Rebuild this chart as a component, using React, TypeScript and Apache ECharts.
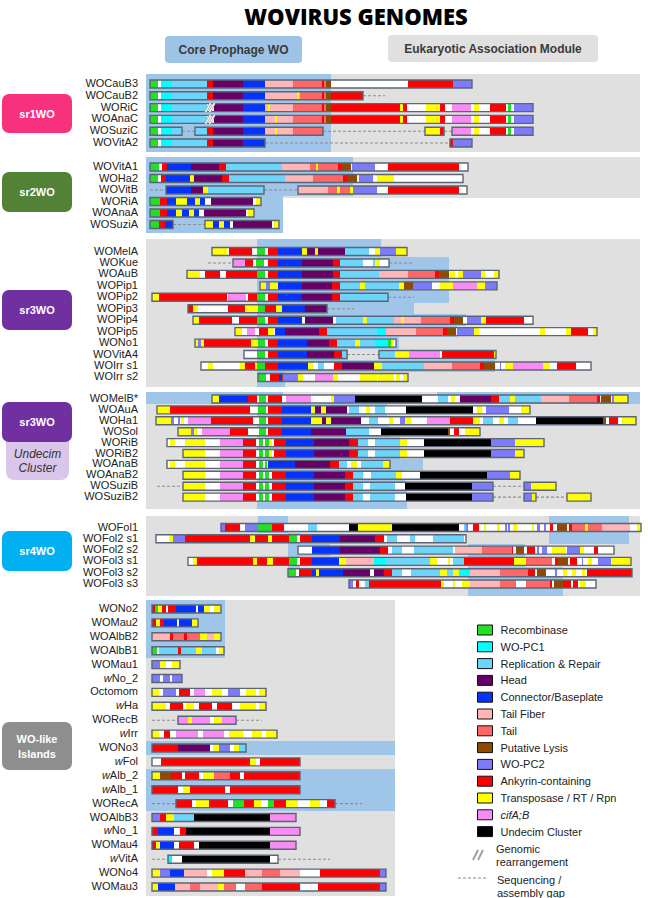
import React, { useEffect, useRef } from "react";
import * as echarts from "echarts";

const FONT = "'Liberation Sans', Arial, Helvetica, sans-serif";

// ---------- gene categories (legend) ----------
const categoryKeys = ["G", "C", "R", "H", "B", "F", "T", "L", "P", "A", "Y", "M", "K"];
const categoryNames = [
  "Recombinase", "WO-PC1", "Replication & Repair", "Head", "Connector/Baseplate",
  "Tail Fiber", "Tail", "Putative Lysis", "WO-PC2", "Ankyrin-containing",
  "Transposase / RT / Rpn", "cifA;B", "Undecim Cluster",
];
const categoryColors = [
  "#22E022", "#00FFFF", "#6DD5FA", "#660066", "#0433FF", "#FFB6B6", "#FF6666",
  "#8E4B00", "#7B7BFB", "#FF0000", "#FFFF00", "#F88CF4", "#000000",
];

// ---------- genome maps: "start  Xend Xend ... -gapEnd ..." (X = category key, W = unassigned) ----------
const sr1Names = ["WOCauB3", "WOCauB2", "WORiC", "WOAnaC", "WOSuziC", "WOVitA2"];
const sr1Genomes = [
  "150 G158 W161 C172 R207 A213 H243 B265 F293 T322 A324 T326 L331 W408 A453 P472",
  "150 G158 W161 C172 R207 A213 H243 B265 F297 Y299 F300 T322 A324 T326 L331 A363 -385",
  "150 G158 W161 C172 R207 W210 / W214 H243 B265 F268 Y270 F293 T322 A324 T326 L331 A400 Y403 A407 W426 Y440 A445 W452 M471 W474 Y479 W490 A506 W508 G511 W514 P533",
  "150 G158 W161 C172 R207 W210 / W214 H243 B265 F275 Y277 F293 T322 A324 T326 L331 A400 Y403 A407 W426 Y440 A445 W452 M471 W474 Y479 W490 A506 W508 G511 W514 P533",
  "150 G158 W161 C172 R182 -195 R207 A213 H243 B265 F275 Y277 F293 T323 -425 Y440 A444 -452 M471 W474 Y479 W490 A506 W508 G511 W514 P533",
  "150 G158 W161 C172 R207 A213 H243 B265 -450 A453 P472",
];
const sr1Core = [[[146, 331]], [[146, 331]], [[146, 331]], [[146, 331]], [[146, 331]], [[146, 331]]];

const sr2Names = ["WOVitA1", "WOHa2", "WOVitB", "WORiA", "WOAnaA", "WOSuziA"];
const sr2Genomes = [
  "150 G159 W162 A167 B191 H219 A226 R282 F310 T316 Y318 T338 A341 L351 W352 P375 W388 A459 W468",
  "150 G158 W161 A166 B190 Y194 H222 A229 R285 F313 T343 A347 L357 W359 P373 W377 Y394 W463",
  "150 -166 B191 H203 Y208 R264 -298 F328 T337 Y340 T350 Y353 P377 W388 A459 W467",
  "150 G160 A167 B176 Y187 B195 Y200 B205 W211 H253 W256 Y261",
  "150 G160 A167 B176 Y182 B189 Y194 B199 W204 H246 W248 Y254",
  "150 G159 A165 B173 -205 Y213 B219 Y224 B230 W233 H272 W274 Y279",
];
const sr2Core = [[[146, 353]], [[146, 353]], [[146, 353]], [[146, 283]], [[146, 283]], [[146, 283]]];

const sr3Names = ["WOMelA", "WOKue", "WOAuB", "WOPip1", "WOPip2", "WOPip3", "WOPip4", "WOPip5", "WONo1", "WOVitA4", "WOIrr s1", "WOIrr s2"];
const sr3Genomes = [
  "212 Y227 W229 A252 W257 G265 W268 A278 B302 Y307 H315 Y318 H345 R369 W375 Y380 P396 Y407",
  "208 -233 M245 A253 W256 G264 W268 A278 B302 H333 A340 R363 W373 R375 Y380 W389 -413",
  "187 Y200 W205 A220 W226 A257 G265 W268 A278 B302 H333 A340 R379 F408 T435 A439 L449 W450 Y455 W458 Y463 P481 Y485 W494 Y499",
  "260 Y266 P270 Y278 B302 H332 A340 R360 Y365 R399 Y404 L413 P432 W440 Y453 M477 Y485 P497",
  "152 Y159 A227 W228 M246 W248 A257 G265 W268 A278 B302 H332 A340 R388 -414",
  "188 A193 Y198 W228 A245 Y258 G265 A276 Y282 B305 H327 -354",
  "193 Y199 A232 W239 A257 G265 W268 A278 B302 W305 H333 W336 R363 Y367 R394 F401 Y404 F421 T450 A454 L463 W467 P481 Y486 A524 W533",
  "235 Y242 W247 M255 W259 A268 Y274 W275 B285 H319 A327 R377 C386 F416 T443 A447 L456 W457 P474 Y479 W540 Y545 W566 Y571 A588 W593 Y597",
  "195 Y198 P201 Y204 A251 Y258 G265 W268 A278 B307 H329 A337 R355 Y360 R375 C388 G391 Y394 W396",
  "244 W257 G265 W268 A278 B307 H334 A342 R347 -379 R395 Y409 M440 W442 A494 Y496",
  "201 W208 Y213 W240 Y245 A255 Y257 G265 A278 B308 Y313 W318 R324 W334 A342 H374 Y382 R424 F452 T480 A484 L495 W500 P501 W505 Y513 M543 Y550 W557 A576 W591",
  "258 G266 W270 A279 B282 L283 P298 Y303 W315 M333 Y338 W360 Y377 W378 Y394 W396 Y400 W403 Y408",
];
const sr3Core = [[[257, 381]], [[257, 449]], [[257, 449]], [[257, 449]], [[257, 449]], [[257, 414]], [[257, 466]], [[257, 457]], [[257, 399]], [[257, 348]], [[257, 495]], [[257, 285]]];

const undNames = ["WOMelB*", "WOAuA", "WOHa1", "WOSol", "WORiB", "WORiB2", "WOAnaB", "WOAnaB2", "WOSuziB", "WOSuziB2"];
const undGenomes = [
  "212 Y219 B248 A257 W259 G266 W268 A282 W286 M311 W331 Y334 P355 K422 W438 R448 W451 Y455 W460 H491 A499 R510 Y515 R541 F569 T597 A600 W601 L611 W612 P614 Y628",
  "157 Y170 A250 W258 G266 W268 A282 B311 Y315 H321 Y326 H347 W349 R359 W366 Y370 W375 R385 W406 K473 W477 Y482 W486 P509 W521 Y530",
  "156 Y171 P174 W178 P180 W181 Y184 W188 M211 A253 W259 G266 W268 A282 B311 Y322 H326 Y331 H361 W369 R378 W389 Y393 W400 P405 Y411 W427 M450 A473 Y480 W483 R493 W499 Y504 W508 R518 W536 K603 L606 W609 A618 W622 Y636",
  "178 Y191 P194 Y197 W202 M230 A248 W259 G266 W268 A282 B311 H346 R369 W381 K448 L450 W454 A459 W465 Y480",
  "167 W170 Y175 W185 Y205 W220 M243 A256 W259 G263 W265 G269 Y272 W274 A286 B314 H349 A358 R368 W375 R400 Y407 W424 K491 P515 Y544",
  "183 Y205 W220 M243 A256 W259 G263 W265 G269 Y272 W274 A286 B314 H349 A358 R368 W375 R400 Y407 W424 K491 P515 Y524",
  "167 W170 Y175 W185 Y205 W220 M243 A256 W259 G263 W265 G267 W268 B295 H330 A339 R347 W351 Y357 W361 R383 Y390",
  "183 Y205 W220 M243 A256 W259 G263 W265 G269 W272 A286 B314 H345 A353 R363 W371 R396 Y402 W420 K487 P510 Y520",
  "157 -183 Y205 W220 M243 A256 W259 G263 W265 G269 W272 A286 B314 H345 A353 R363 W370 R395 W405 K472 P493 -524 P531 Y556",
  "183 Y205 W220 M243 A256 W259 G263 W265 G269 W272 A286 B314 H345 A353 R363 W370 R395 W406 K472 P493 -524 P532 Y536 -567 Y591",
];
const undCore = [[[146, 283], [437, 640]], [[257, 387]], [[257, 387]], [[257, 390]], [[257, 400]], [[257, 400]], [[257, 423]], [[257, 405]], [[257, 407]], [[257, 407]]];

const sr4Names = ["WOFol1", "WOFol2 s1", "WOFol2 s2", "WOFol3 s1", "WOFol3 s2", "WOFol3 s3"];
const sr4Genomes = [
  "221 P225 A240 W245 P258 G272 A284 W308 R317 W349 K358 Y392 K459 W464 R466 P468 W473 A479 W484 Y486 W497 Y500 W505 P507 W508 P510 W513 Y517 W532 Y534 W537 P540 W544 P546 W550 A553 W557 L567 W569 A572 T585 Y588 T602 F630 W637 Y641",
  "156 W169 Y173 P185 A250 Y255 A268 Y272 A289 G297 W300 A312 B340 H375 A384 W387 R397 W410 R415 W433 R464 W466",
  "298 W312 B340 H380 A388 W392 R402 W414 R453 W455 F482 T512 A513 W516 L524 W527 A535 W537 P539 W542 P547 W552 Y566 W567 P580 Y584 W594 A598 W614",
  "188 W193 Y197 A253 Y257 A267 Y273 A289 G297 W300 A312 B339 Y346 F374 C385 R430 Y437 W448 Y450 W453 R464 A514 Y526 T552 W555 A558 L568 W570 A577 W582 P583 W588 Y592 W598 P611 Y631",
  "288 G296 W299 A312 B316 Y319 B343 H370 W374 H384 A392 R402 W411 R440 Y447 R453 Y459 C470 F500 T528 A535 W537 L546 W555 P557 W563 Y567 W572 Y576 W582 Y585 W587 A632",
  "349 P353 W356 A359 W365 R369 A441 Y444 W453 Y455 W462 Y470 F500 T516 W526 T550 A552 W554 L563 A571 W573 A578 W580 Y586 W596",
];
const sr4Core = [[[258, 288], [549, 629]], [[288, 300], [549, 629]], [[288, 330], [468, 525]], [[288, 300], [468, 525]], [[288, 300], [468, 563]], [[468, 563]]];

const wolNames = ["WONo2", "WOMau2", "WOAlbB2", "WOAlbB1", "WOMau1", "wNo_2", "Octomom", "wHa", "WORecB", "wIrr", "WONo3", "wFol", "wAlb_2", "wAlb_1", "WORecA", "WOAlbB3", "wNo_1", "WOMau4", "wVitA", "WONo4", "WOMau3"];
const wolGenomes = [
  "152 A155 G158 Y162 A166 W168 A176 B196 W198 B204 Y210 W214 Y221",
  "152 A156 Y160 A164 B177 W179 B192 Y198",
  "152 F170 A173 T184 A187 T200 Y207 F214 Y221",
  "152 G157 W159 R178 A181 R196 Y202 R216 W219 Y224",
  "152 P160 Y166 W172 Y180",
  "152 P160 W163 P170 W172 P182",
  "152 Y159 W163 P176 W179 A190 W194 M205 W212 Y222 W228 P240 W246 Y256 W259 Y266",
  "152 Y166 W170 A183 W186 Y194 W199 A212 W217 A232 W240 Y256 W259 Y266",
  "152 -178 M188 Y192 M210 W214 Y222 M236 -262",
  "152 Y159 W164 A170 W176 M198 W203 M224 W229 Y243 W252 Y262 W266 Y277",
  "152 A178 H210 W213 Y219 P230 W234 Y239 R246",
  "152 W161 A250 Y256 W260 A300",
  "152 Y160 L171 A182 W185 A199 W203 Y214 T230 A240 W244 A300",
  "152 A178 W183 Y190 A225 W230 A300",
  "152 -176 A192 W196 Y209 A228 W233 G244 A254 Y261 W268 G274 A286 Y298 W310 Y320 W327 A335 -362",
  "152 P160 A166 Y174 R194 K270 M296",
  "152 A158 B174 W180 A186 K270 M300",
  "152 A156 Y160 B174 W179 A194 W199 K270 M296",
  "152 -168 C172 W182 K270 W278 -330",
  "152 Y160 P170 B184 F207 W212 Y224 A245 F262 T280 F300 W320 A380 P386",
  "152 Y158 B175 F190 T200 F218 Y224 T236 W245 T262 A300 W318 A380 P386",
];
const wolCore = [[[146, 225]], [[146, 225]], [[146, 225]], [[146, 225]], [], [], [], [], [], [], [[146, 395]], [], [[146, 395]], [[146, 395]], [[146, 395]], [], [], [], [], [], []];

// ---------- layout (pixel geometry of each group panel) ----------
const GROUPS = [
  { names: sr1Names, genomes: sr1Genomes, core: sr1Core, top: 74, bottom: 152, first: 84, step: 11.8, grayTo: 640, grayRows: 6 },
  { names: sr2Names, genomes: sr2Genomes, core: sr2Core, top: 157, bottom: 233, first: 167, step: 11.5, grayTo: 640, grayRows: 3 },
  { names: sr3Names, genomes: sr3Genomes, core: sr3Core, top: 239, bottom: 387, first: 251.5, step: 11.45, grayTo: 640, grayRows: 12 },
  { names: undNames, genomes: undGenomes, core: undCore, top: 392, bottom: 509, first: 399, step: 10.9, grayTo: 640, grayRows: 10 },
  { names: sr4Names, genomes: sr4Genomes, core: sr4Core, top: 516, bottom: 596, first: 527.5, step: 11.3, grayTo: 640, grayRows: 6 },
  { names: wolNames, genomes: wolGenomes, core: wolCore, top: 600, bottom: 895, first: 609, step: 13.9, grayTo: 395, grayRows: 21 },
];
const PANEL_LEFT = 146;
const BAR_H = 8;
const GRAY = "#E0E0E0";
const BLUE = "#9FC5E8";

function parseGenome(str: string) {
  const toks = str.trim().split(/\s+/);
  let cur = parseFloat(toks[0]);
  let blockStart = cur;
  let open = false;
  const segs: [number, number, string][] = [];
  const blocks: [number, number][] = [];
  const gaps: [number, number][] = [];
  const marks: number[] = [];
  for (const tok of toks.slice(1)) {
    const k = tok[0];
    if (k === "/") { marks.push(cur); continue; }
    const v = parseFloat(tok.slice(1));
    if (k === "-") {
      if (open) blocks.push([blockStart, cur]);
      gaps.push([cur, v]);
      cur = v; blockStart = v; open = false;
    } else {
      segs.push([cur, v, k]); cur = v; open = true;
    }
  }
  if (open) blocks.push([blockStart, cur]);
  return { segs, blocks, gaps, marks };
}

function buildData() {
  const grayRects: number[][] = [];
  const blueRects: number[][] = [];
  const segByKey: Record<string, number[][]> = {};
  const blocks: number[][] = [];
  const gaps: number[][] = [];
  const marks: number[][] = [];
  const labels: { y: number; name: string }[] = [];
  for (const g of GROUPS) {
    const ys = g.names.map((_, i) => g.first + i * g.step);
    g.names.forEach((name, i) => {
      const y = ys[i];
      const yT = i === 0 ? g.top : (ys[i - 1] + y) / 2;
      const yB = i === ys.length - 1 ? g.bottom : (ys[i + 1] + y) / 2;
      if (i < g.grayRows) {
        const yBg = i === g.grayRows - 1 ? Math.max(yB, y + g.step / 2 + 2) : yB;
        grayRects.push([PANEL_LEFT, g.grayTo, yT, yBg]);
      }
      for (const c of g.core[i] || []) blueRects.push([c[0], c[1], yT, yB]);
      const p = parseGenome(g.genomes[i]);
      for (const s of p.segs) {
        (segByKey[s[2]] = segByKey[s[2]] || []).push([s[0], s[1], y]);
      }
      for (const b of p.blocks) blocks.push([b[0], b[1], y]);
      for (const d of p.gaps) gaps.push([d[0], d[1], y]);
      for (const m of p.marks) marks.push([m, y]);
      labels.push({ y, name });
    });
  }
  return { grayRects, blueRects, segByKey, blocks, gaps, marks, labels };
}

function areaSeries(name: string, rects: number[][], fill: string, z: number) {
  return {
    type: "custom", name, silent: true, clip: false, z,
    data: rects,
    renderItem: (_p: any, api: any) => {
      const a = api.coord([api.value(0), api.value(2)]);
      const b = api.coord([api.value(1), api.value(3)]);
      const x0 = Math.round(a[0]), x1 = Math.round(b[0]);
      const y0 = Math.round(a[1]), y1 = Math.round(b[1]);
      return { type: "rect", shape: { x: x0, y: y0, width: x1 - x0, height: y1 - y0 }, style: { fill } };
    },
  };
}

function segSeries(name: string, data: number[][], color: string) {
  return {
    type: "custom", name, silent: true, clip: false, z: 3,
    itemStyle: { color },
    data,
    renderItem: (_p: any, api: any) => {
      const a = api.coord([api.value(0), api.value(2)]);
      const b = api.coord([api.value(1), api.value(2)]);
      return { type: "rect", shape: { x: a[0], y: a[1] - BAR_H / 2, width: b[0] - a[0], height: BAR_H }, style: { fill: color } };
    },
  };
}

function labelRich(name: string) {
  if (/^w[A-Z]/.test(name)) return "{i|w}{n|" + name.slice(1) + "}";
  return "{n|" + name + "}";
}

export default function App() {
  const ref = useRef<HTMLDivElement>(null);
  useEffect(() => {
    if (!ref.current) return;
    const chart = echarts.init(ref.current, null, { renderer: "svg" });
    const d = buildData();

    const series: any[] = [];
    series.push(areaSeries("panel", d.grayRects, GRAY, 1));
    series.push(areaSeries("core", d.blueRects, BLUE, 2));
    series.push(segSeries("unassigned", d.segByKey["W"] || [], "#FFFFFF"));
    categoryKeys.forEach((k, i) => series.push(segSeries(categoryNames[i], d.segByKey[k] || [], categoryColors[i])));
    series.push({
      type: "custom", name: "blocks", silent: true, clip: false, z: 5, data: d.blocks,
      renderItem: (_p: any, api: any) => {
        const a = api.coord([api.value(0), api.value(2)]);
        const b = api.coord([api.value(1), api.value(2)]);
        return { type: "rect", shape: { x: a[0], y: a[1] - BAR_H / 2, width: b[0] - a[0], height: BAR_H }, style: { fill: "none", stroke: "#5B6577", lineWidth: 1.4 } };
      },
    });
    series.push({
      type: "custom", name: "gaps", silent: true, clip: false, z: 4, data: d.gaps,
      renderItem: (_p: any, api: any) => {
        const a = api.coord([api.value(0), api.value(2)]);
        const b = api.coord([api.value(1), api.value(2)]);
        return { type: "line", shape: { x1: a[0], y1: a[1], x2: b[0], y2: b[1] }, style: { stroke: "#8C8C8C", lineWidth: 1.1, lineDash: [3, 2] } };
      },
    });
    series.push({
      type: "custom", name: "rearrangement", silent: true, clip: false, z: 6, data: d.marks,
      renderItem: (_p: any, api: any) => {
        const c = api.coord([api.value(0), api.value(1)]);
        const mk = (dx: number, stroke: string, w: number) => ({
          type: "line", shape: { x1: c[0] + dx - 2.5, y1: c[1] + 4.5, x2: c[0] + dx + 2.5, y2: c[1] - 4.5 },
          style: { stroke, lineWidth: w },
        });
        return { type: "group", children: [mk(-2, "#9A9A9A", 2.6), mk(2, "#9A9A9A", 2.6), mk(-2, "#FFFFFF", 1.2), mk(2, "#FFFFFF", 1.2)] };
      },
    });
    series.push({
      type: "custom", name: "names", silent: true, clip: false, z: 6,
      data: d.labels.map((l) => [PANEL_LEFT, l.y]),
      renderItem: (p: any, api: any) => {
        const c = api.coord([api.value(0), api.value(1)]);
        return {
          type: "text", x: c[0] - 8, y: c[1] - 1,
          style: {
            text: labelRich(d.labels[p.dataIndex].name), textAlign: "right", textVerticalAlign: "middle",
            rich: {
              n: { fontSize: 11, fontFamily: FONT, fill: "#222" },
              i: { fontSize: 11, fontFamily: FONT, fill: "#222", fontStyle: "italic" },
            },
          },
        };
      },
    });

    const pill = (x: number, y: number, w: number, h: number, fill: string, text: string, color: string, font: string, r = 7) => [
      { type: "rect", shape: { x, y, width: w, height: h, r }, style: { fill }, z: 10 },
      { type: "text", x: x + w / 2, y: y + h / 2, z: 11, style: { text, fill: color, font, textAlign: "center", textVerticalAlign: "middle", lineHeight: 15 } },
    ];
    const groupFont = `bold 11px ${FONT}`;

    const graphic: any[] = [
      { type: "text", x: 356, y: 16, style: { text: "WOVIRUS GENOMES", font: "800 22px 'Open Sans', sans-serif", fill: "#000", textAlign: "center", textVerticalAlign: "middle" } },
      ...pill(165, 36, 137, 27, "#9DC3E6", "Core Prophage WO", "#3A3A3A", `bold 12px ${FONT}`, 4),
      ...pill(388, 35, 210, 27, "#E0E0E0", "Eukaryotic Association Module", "#3A3A3A", `bold 12px ${FONT}`, 4),
      ...pill(2, 94, 70, 39, "#F8317F", "sr1WO", "#FFFFFF", groupFont),
      ...pill(2, 172, 70, 40, "#538135", "sr2WO", "#FFFFFF", groupFont),
      ...pill(2, 290, 70, 40, "#7030A0", "sr3WO", "#FFFFFF", groupFont),
      { type: "rect", shape: { x: 6, y: 430, width: 63, height: 50, r: 8 }, style: { fill: "#D9C6EA" }, z: 9 },
      { type: "text", x: 37.5, y: 461, z: 11, style: { text: "Undecim\nCluster", fill: "#333", font: `italic 12px ${FONT}`, textAlign: "center", textVerticalAlign: "middle", lineHeight: 14 } },
      ...pill(2, 402, 70, 40, "#7030A0", "sr3WO", "#FFFFFF", groupFont),
      ...pill(2, 531, 70, 40, "#00B0F0", "sr4WO", "#FFFFFF", groupFont),
      ...pill(2, 722, 70, 48, "#8E8E8E", "WO-like\nIslands", "#FFFFFF", groupFont),
      // extra legend keys
      { type: "line", shape: { x1: 473, y1: 860, x2: 478, y2: 850 }, style: { stroke: "#A0A0A0", lineWidth: 2 } },
      { type: "line", shape: { x1: 478, y1: 860, x2: 483, y2: 850 }, style: { stroke: "#A0A0A0", lineWidth: 2 } },
      { type: "text", x: 496, y: 855, style: { text: "Genomic\nrearrangement", fill: "#222", font: `11px ${FONT}`, textVerticalAlign: "middle", lineHeight: 13 } },
      { type: "line", shape: { x1: 458, y1: 878, x2: 488, y2: 878 }, style: { stroke: "#8C8C8C", lineWidth: 1.1, lineDash: [3, 2] } },
      { type: "text", x: 497, y: 886, style: { text: "Sequencing /\nassembly gap", fill: "#222", font: `11px ${FONT}`, textVerticalAlign: "middle", lineHeight: 13 } },
    ];

    chart.setOption({
      animation: false,
      backgroundColor: "#FFFFFF",
      grid: { left: PANEL_LEFT, right: 8, top: 0, bottom: 0 },
      xAxis: { type: "value", min: 146, max: 640, show: false },
      yAxis: { type: "value", min: 0, max: 898, inverse: true, show: false },
      legend: {
        data: categoryNames,
        orient: "vertical", left: 472, top: 619,
        icon: "rect", itemWidth: 15, itemHeight: 10, itemGap: 4.8,
        selectedMode: false,
        itemStyle: { borderColor: "#111", borderWidth: 1 },
        formatter: (n: string) => (n === "cifA;B" ? "{i|cifA;B}" : n),
        textStyle: {
          fontSize: 11, fontFamily: FONT, color: "#222", lineHeight: 12, padding: [0, 0, 0, 3],
          rich: { i: { fontStyle: "italic", fontSize: 11, fontFamily: FONT, color: "#222" } },
        },
      },
      graphic,
      series,
    });
    return () => chart.dispose();
  }, []);
  return <div ref={ref} style={{ position: "fixed", left: 0, top: 0, width: 648, height: 898 }} />;
}
